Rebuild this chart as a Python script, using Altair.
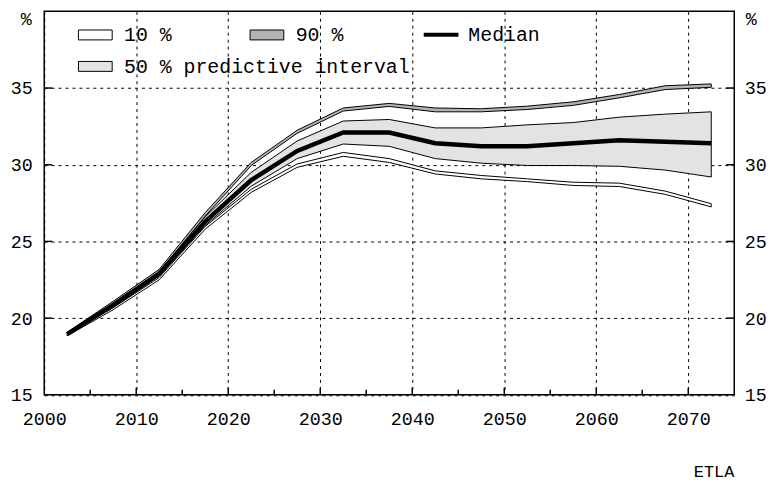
import altair as alt
import pandas as pd

# ---- data ----
years = [2002.5, 2007.5, 2012.5, 2017.5, 2022.5, 2027.5, 2032.5, 2037.5,
         2042.5, 2047.5, 2052.5, 2057.5, 2062.5, 2067.5, 2072.5]
median = [18.95, 20.85, 22.9, 26.3, 29.0, 30.9, 32.1, 32.1,
          31.4, 31.2, 31.2, 31.4, 31.6, 31.5, 31.4]
p50_low = [18.9, 20.7, 22.75, 26.05, 28.6, 30.4, 31.35, 31.2,
           30.4, 30.1, 29.95, 29.95, 29.9, 29.65, 29.2]
p50_high = [19.0, 20.95, 23.05, 26.6, 29.5, 31.55, 32.85, 32.95,
            32.4, 32.4, 32.6, 32.75, 33.1, 33.3, 33.45]
p10_low = [18.85, 20.55, 22.5, 25.8, 28.2, 29.83, 30.55, 30.15,
           29.4, 29.08, 28.9, 28.65, 28.58, 28.07, 27.25]
p10_high = [18.95, 20.68, 22.65, 25.98, 28.4, 30.05, 30.8, 30.4,
            29.6, 29.3, 29.08, 28.86, 28.8, 28.28, 27.46]
p90_low = [18.98, 20.98, 23.02, 26.65, 29.95, 32.05, 33.5, 33.8,
           33.45, 33.45, 33.6, 33.87, 34.36, 34.9, 35.05]
p90_high = [19.08, 21.1, 23.18, 26.88, 30.15, 32.25, 33.7, 34.0,
            33.7, 33.65, 33.82, 34.1, 34.58, 35.15, 35.27]

x_label_ticks = [2000, 2010, 2020, 2030, 2040, 2050, 2060, 2070]
x_major_ticks = [2010, 2020, 2030, 2040, 2050, 2060, 2070]
x_minor_ticks = [2005, 2015, 2025, 2035, 2045, 2055, 2065]
y_ticks = [15, 20, 25, 30, 35]
y_tick_marks = [20, 25, 30, 35]

legend_labels = ["10 %", "90 %", "Median", "50 % predictive interval"]
unit_label = "%"
source_label = "ETLA"

df = pd.DataFrame({
    "year": years, "median": median,
    "p50_low": p50_low, "p50_high": p50_high,
    "p10_low": p10_low, "p10_high": p10_high,
    "p90_low": p90_low, "p90_high": p90_high,
})
xt_major = pd.DataFrame({"v": x_major_ticks})
xt_minor = pd.DataFrame({"v": x_minor_ticks})
yt = pd.DataFrame({"v": y_tick_marks})

W = 695.5
H = 386.5
FONT = "Liberation Mono"

xscale = alt.Scale(domain=[2000, 2075], nice=False, zero=False)
yscale = alt.Scale(domain=[15, 40], nice=False, zero=False)

x_axis = alt.Axis(values=x_label_ticks, format="d", grid=True, gridColor="black",
                  gridDash=[3, 4], gridWidth=1, ticks=False, tickSize=0, domain=False,
                  labelPadding=15, labelFlush=False, labelOverlap=False, title=None)
y_axis_left = alt.Axis(values=y_ticks, grid=True, gridColor="black", gridDash=[3, 4],
                       gridWidth=1, ticks=False, tickSize=0, domain=False,
                       labelPadding=12, labelFlush=False, title=None)


def X(field):
    return alt.X(field, scale=xscale, axis=x_axis)


base = alt.Chart(df)

area50 = base.mark_area(fill="#e3e3e3", stroke="black", strokeWidth=1).encode(
    x=X("year:Q"),
    y=alt.Y("p50_low:Q", scale=yscale, axis=y_axis_left),
    y2="p50_high:Q",
)
band10 = base.mark_area(fill="white", stroke="black", strokeWidth=1).encode(
    x=X("year:Q"),
    y=alt.Y("p10_low:Q", scale=yscale, axis=None),
    y2="p10_high:Q",
)
band90 = base.mark_area(fill="#b3b3b3", stroke="black", strokeWidth=1).encode(
    x=X("year:Q"),
    y=alt.Y("p90_low:Q", scale=yscale, axis=None),
    y2="p90_high:Q",
)
med = base.mark_line(color="black", strokeWidth=4.5).encode(
    x=X("year:Q"),
    y=alt.Y("median:Q", scale=yscale, axis=None),
)

# inward ticks
xmaj = alt.Chart(xt_major).mark_rule(color="black", strokeWidth=1.5).encode(
    x=X("v:Q"), y=alt.value(H), y2=alt.value(H - 7))
xmin = alt.Chart(xt_minor).mark_rule(color="black", strokeWidth=1.5).encode(
    x=X("v:Q"), y=alt.value(H), y2=alt.value(H - 5))
yl = alt.Chart(yt).mark_rule(color="black", strokeWidth=1.5).encode(
    y=alt.Y("v:Q", scale=yscale, axis=None), x=alt.value(0), x2=alt.value(8))
yr = alt.Chart(yt).mark_rule(color="black", strokeWidth=1.5).encode(
    y=alt.Y("v:Q", scale=yscale,
            axis=alt.Axis(orient="right", values=y_ticks, grid=False, ticks=False,
                          tickSize=0, domain=False, labelPadding=10,
                          labelFlush=False, title=None)),
    x=alt.value(W - 8), x2=alt.value(W))

one = alt.Data(values=[{}])


def txt(label, x, y, align="left", size=20):
    return alt.Chart(one).mark_text(font=FONT, fontSize=size, align=align,
                                    baseline="alphabetic", color="black").encode(
        x=alt.value(x), y=alt.value(y), text=alt.value(label))


def swatch(x0, x1, y0, y1, fill):
    return alt.Chart(one).mark_rect(fill=fill, stroke="black", strokeWidth=1).encode(
        x=alt.value(x0), x2=alt.value(x1), y=alt.value(y0), y2=alt.value(y1))


legend = [
    swatch(34.5, 68.5, 18.8, 28.8, "white"),
    txt(legend_labels[0], 80.5, 30),
    swatch(207.5, 241.5, 18.8, 28.8, "#b3b3b3"),
    txt(legend_labels[1], 253.5, 30),
    alt.Chart(one).mark_rule(color="black", strokeWidth=4).encode(
        x=alt.value(382.5), x2=alt.value(417.5), y=alt.value(23.5)),
    txt(legend_labels[2], 427.5, 30),
    swatch(34.5, 68.5, 50.5, 60.5, "#e3e3e3"),
    txt(legend_labels[3], 80.5, 62.5),
]

annots = [
    txt(unit_label, -12.5, 13.5, align="right", size=18.5),
    txt(unit_label, W + 11.5, 13.5, align="left", size=18.5),
    txt(source_label, W, 469.5, align="right", size=17),
]

chart = alt.layer(
    area50, band10, band90, med, xmaj, xmin, yl, yr, *legend, *annots
).resolve_scale(y="independent").properties(
    width=W, height=H,
    autosize=alt.AutoSizeParams(type="none"),
    padding={"left": 36.5, "top": 1.5, "right": 33, "bottom": 86},
).configure_view(
    stroke="black", strokeWidth=1.5
).configure_axis(
    labelFont=FONT, labelFontSize=18.5, labelColor="black"
)

chart.save("out.html", embed_options={"renderer": "svg", "actions": False})
